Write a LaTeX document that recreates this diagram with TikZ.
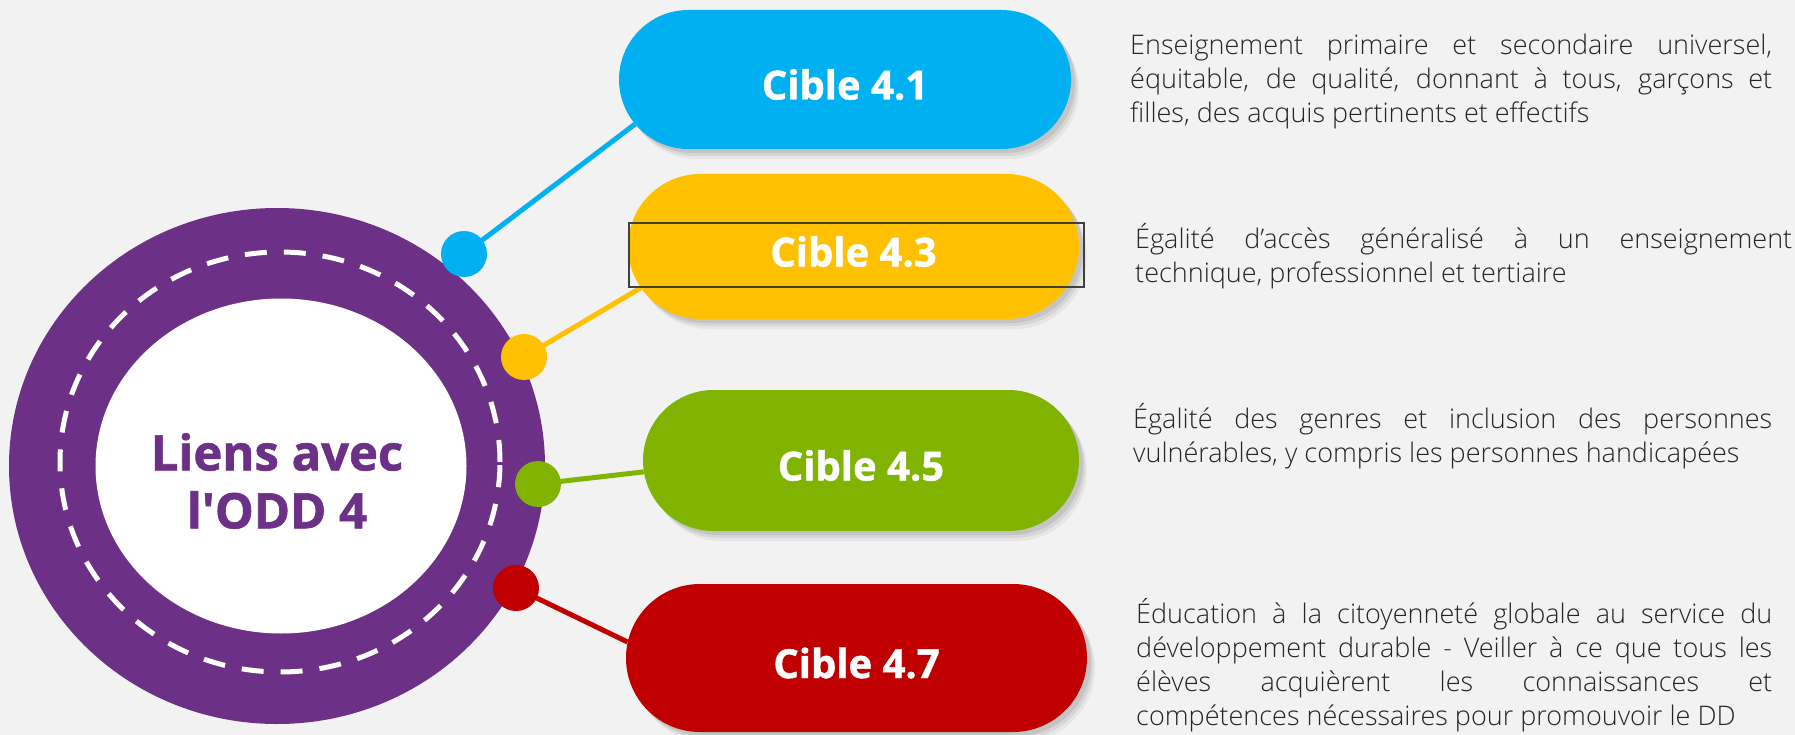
\documentclass[tikz,border=0pt]{standalone}
\usepackage{fontspec}
\setmainfont{Open Sans}
\newfontfamily\lightfont{Open Sans Light}
\newfontfamily\heavyfont{Open Sans}[FakeBold=1.2]
\usetikzlibrary{shapes.geometric,shapes.misc,shadows,backgrounds}

\definecolor{bggray}{HTML}{F2F2F2}
\definecolor{oddpurple}{HTML}{6C3086}
\definecolor{cblue}{HTML}{00B0F0}
\definecolor{cyellow}{HTML}{FFC000}
\definecolor{cgreen}{HTML}{80B400}
\definecolor{cred}{HTML}{C00000}
\definecolor{txtgray}{HTML}{262626}

\tikzset{
    pill/.style={rounded rectangle, fill=#1, text=white, inner sep=0pt,
        text height=40pt, text depth=0pt,
        font=\heavyfont\bfseries\fontsize{40}{48}\selectfont,
        drop shadow={shadow xshift=8pt, shadow yshift=-10pt, opacity=0.10},
        drop shadow={shadow xshift=6pt, shadow yshift=-7pt, opacity=0.15},
        drop shadow={shadow xshift=4pt, shadow yshift=-4pt, opacity=0.20}},
    pindot/.style={circle, fill=#1, minimum size=46pt, inner sep=0pt},
    link/.style={draw=#1, line width=5pt},
    goaltext/.style={anchor=base west, inner sep=0pt, align=justify,
        text=txtgray, font=\lightfont\fontsize{27}{34}\selectfont}
}

\begin{document}
\begin{tikzpicture}[x=1pt, y=-1pt]
    \useasboundingbox (0,0) rectangle (1795,735);
    \begin{scope}[on background layer]
        \fill[bggray] (0,0) rectangle (1795,735);
    \end{scope}

    % cercle central
    \node[ellipse, fill=oddpurple, minimum width=536pt, minimum height=516pt] (outer) at (277,466) {};
    \node[ellipse, draw=white, line width=5pt, dash pattern=on 22pt off 17pt,
        minimum width=440pt, minimum height=420pt] (dashring) at (280,462) {};
    \node[ellipse, fill=white, minimum width=371pt, minimum height=335pt] (inner) at (281,466) {};
    \node[align=center, inner sep=0pt, text=oddpurple, font=\heavyfont\bfseries\fontsize{49}{58}\selectfont]
        (title) at (277,481) {Liens avec\\l\textquotesingle ODD 4};

    % cibles
    \node[pill=cblue, minimum width=452pt, minimum height=139pt] (p41) at (845,79.5) {Cible 4.1};
    \node[pill=cyellow, minimum width=451pt, minimum height=145pt] (p43) at (853.5,246.5) {Cible 4.3};
    \node[pill=cgreen, minimum width=436pt, minimum height=141pt] (p45) at (861,460.5) {Cible 4.5};
    \node[pill=cred, minimum width=461pt, minimum height=148pt] (p47) at (856.5,658) {Cible 4.7};
    \node[draw=black!75, line width=2pt, minimum width=455pt, minimum height=64pt] (frame43) at (856.5,255) {};

    \node[pindot=cblue] (d41) at (464,254) {};
    \node[pindot=cyellow] (d43) at (524,357) {};
    \node[pindot=cgreen] (d45) at (538,484) {};
    \node[pindot=cred] (d47) at (516,588) {};

    \begin{scope}[on background layer]
        \draw[link=cblue] (d41.center) -- (p41.192);
        \draw[link=cyellow] (d43.center) -- (p43.191);
        \draw[link=cgreen] (d45.center) -- (p45.183);
        \draw[link=cred] (d47.center) -- (p47.176);
    \end{scope}

    % textes
    \node[goaltext, text width=642pt] (t41) at (1130,55) {Enseignement primaire et secondaire universel,\linebreak
        équitable, de qualité, donnant à tous, garçons et\linebreak
        filles, des acquis pertinents et effectifs};
    \node[goaltext, text width=657pt] (t43) at (1135,248) {Égalité d’accès généralisé à un enseignement\linebreak
        technique, professionnel et tertiaire};
    \node[goaltext, text width=639pt] (t45) at (1133,428) {Égalité des genres et inclusion des personnes\linebreak
        vulnérables, y compris les personnes handicapées};
    \node[goaltext, text width=636pt] (t47) at (1136,623) {Éducation à la citoyenneté globale au service du\linebreak
        développement durable - Veiller à ce que tous les\linebreak
        élèves acquièrent les connaissances et\linebreak
        compétences nécessaires pour promouvoir le DD};
\end{tikzpicture}
\end{document}
